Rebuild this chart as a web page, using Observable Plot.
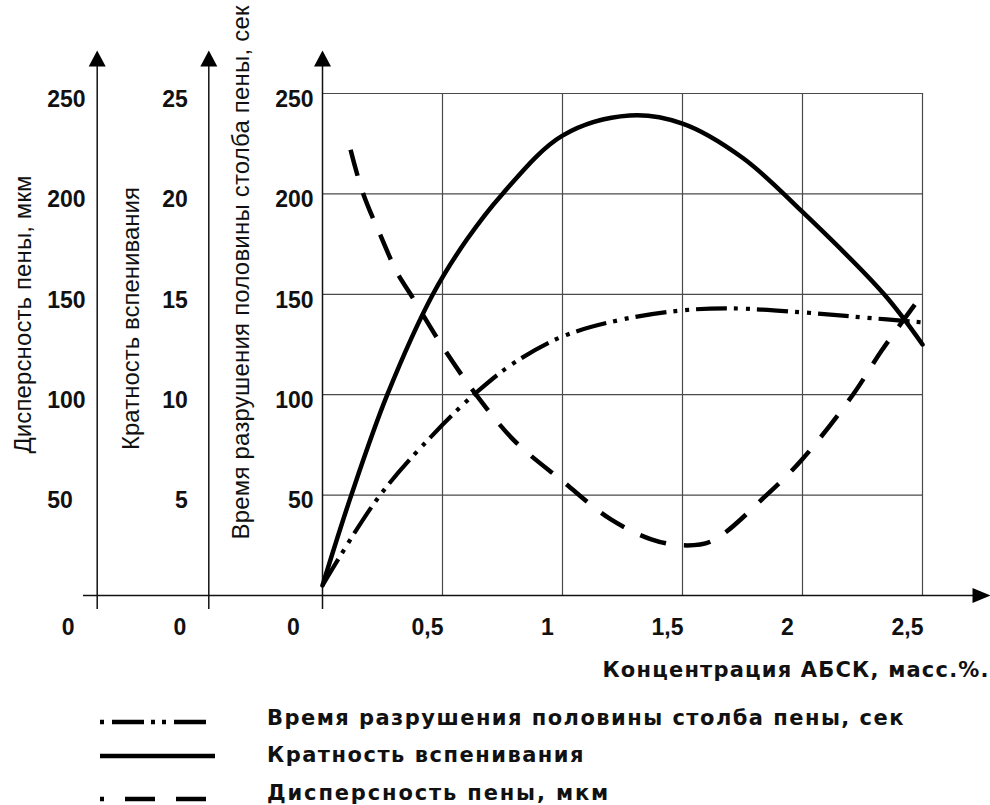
<!DOCTYPE html>
<html>
<head>
<meta charset="utf-8">
<script src="https://cdn.jsdelivr.net/npm/d3@7"></script>
<script src="https://cdn.jsdelivr.net/npm/@observablehq/plot@0.6"></script>
<style>
  body { margin: 0; background: #fff; font-family: "Liberation Sans", Arial, sans-serif; }
  #wrap { position: relative; width: 990px; height: 805px; overflow: hidden; }
  #wrap > svg { position: absolute; left: 0; top: 0; }
  .lgtext { position: absolute; left: 267px; font-family: "DejaVu Sans", sans-serif; font-weight: bold;
            font-size: 21px; color: #111; white-space: nowrap; line-height: 20px; }
</style>
</head>
<body>
<div id="wrap"></div>
<script>
// ---------------- DATA ----------------
// Кратность вспенивания (0..25 scale)
const kratConc  = [0, 0.12, 0.27, 0.46, 0.6, 0.75, 1.0, 1.28, 1.5, 1.75, 2.0, 2.34, 2.5];
const kratValue = [0.5, 5.0, 10.0, 15.0, 17.7, 20.0, 22.9, 23.9, 23.5, 21.8, 19.1, 15.0, 12.5];

// Время разрушения половины столба пены, сек (0..250)
const timeConc  = [0, 0.24, 0.5, 0.65, 0.8, 1.0, 1.25, 1.5, 1.7, 2.0, 2.25, 2.5];
const timeValue = [5, 50, 85, 102, 116, 129, 137.5, 142, 143, 141, 138.5, 136];

// Дисперсность пены, мкм (0..250)
const dispConc  = [0.117, 0.167, 0.25, 0.31, 0.367, 0.5, 0.64, 0.8, 1.0, 1.2, 1.37, 1.5, 1.62, 1.85, 2.0, 2.21, 2.33, 2.5];
const dispValue = [222, 201, 177, 161, 150, 124, 100, 77, 57, 38, 28, 25, 27, 50, 68, 100, 122, 150];

// Tick values / labels
const xTicks      = [0.5, 1, 1.5, 2, 2.5];
const xTickLabels = ["0,5", "1", "1,5", "2", "2,5"];
const timeTicks   = [50, 100, 150, 200, 250];
const kratTicks   = [5, 10, 15, 20, 25];
const dispTicks   = [50, 100, 150, 200, 250];
const yGrid       = [50, 100, 150, 200, 250];

const titleDisp = "Дисперсность пены, мкм";
const titleKrat = "Кратность вспенивания";
const titleTime = "Время разрушения половины столба пены, сек";
const titleX    = "Концентрация АБСК, масс.%.";

// ---------------- LAYOUT ----------------
const W = 990, H = 700;
const xRange = [322, 922], yRange = [595, 93];
const pxToX = px => (px - xRange[0]) / (xRange[1] - xRange[0]) * 2.5;
const pyToY = py => (yRange[0] - py) / (yRange[0] - yRange[1]) * 250;
const axisX = [pxToX(96.7), pxToX(208.3), 0];   // three vertical axes
const font = "Liberation Sans, Arial, sans-serif";

const krat = kratConc.map((c, i) => ({c, v: kratValue[i] * 10}));
const time = timeConc.map((c, i) => ({c, v: timeValue[i]}));
const disp = dispConc.map((c, i) => ({c, v: dispValue[i]}));

const upArrow = { draw(ctx) { ctx.moveTo(0, 0); ctx.lineTo(-8.5, 16); ctx.lineTo(8.5, 16); ctx.closePath(); } };
const rightArrow = { draw(ctx) { ctx.moveTo(0, 0); ctx.lineTo(-18, -7.5); ctx.lineTo(-18, 7.5); ctx.closePath(); } };

const tickFont = {fontSize: 23, fontWeight: "bold", fill: "#111", lineAnchor: "middle"};
const titleFont = {fontSize: 24, fill: "#111", rotate: -90, frameAnchor: "top-left",
                   textAnchor: "middle", lineAnchor: "middle"};

const chart = Plot.plot({
  width: W, height: H,
  marginLeft: 0, marginRight: 0, marginTop: 0, marginBottom: 0,
  style: {fontFamily: font, background: "white", overflow: "visible"},
  x: {domain: [0, 2.5], range: xRange, axis: null},
  y: {domain: [0, 250], range: yRange, axis: null},
  marks: [
    // grid
    Plot.ruleX(xTicks, {y1: 0, y2: 250, stroke: "#4a4a4a", strokeWidth: 1.2}),
    Plot.ruleY(yGrid, {x1: 0, x2: 2.5, stroke: "#4a4a4a", strokeWidth: 1.2}),
    // axis lines
    Plot.ruleY([0], {x1: pxToX(83), x2: pxToX(975), stroke: "#111", strokeWidth: 1.6}),
    Plot.ruleX(axisX, {y1: pyToY(609), y2: pyToY(60), stroke: "#111", strokeWidth: 1.5}),
    Plot.dot(axisX, {x: d => d, y: pyToY(50), symbol: upArrow, fill: "#000", stroke: null}),
    Plot.dot([0], {x: pxToX(990), y: 0, symbol: rightArrow, fill: "#000", stroke: null}),
    // tick labels
    Plot.text(timeTicks, {x: 0, y: d => d, text: d => String(d), textAnchor: "end", dx: -9, dy: 6, ...tickFont}),
    Plot.text(kratTicks, {x: axisX[1], y: d => d * 10, text: d => String(d), textAnchor: "end", dx: -21, dy: 6, ...tickFont}),
    Plot.text(dispTicks, {x: axisX[0], y: d => d, text: d => String(d), textAnchor: "start", dx: -50, dy: 6, ...tickFont}),
    Plot.text(axisX, {x: d => d, y: 0, text: () => "0", dx: -29, dy: 32, ...tickFont}),
    Plot.text(xTicks, {x: d => d, y: 0, text: (d, i) => xTickLabels[i], dx: -15, dy: 32, ...tickFont}),
    // axis titles
    Plot.text([titleDisp], {...titleFont, dx: 23, dy: 314}),
    Plot.text([titleKrat], {...titleFont, dx: 131, dy: 318}),
    Plot.text([titleTime], {...titleFont, dx: 241, dy: 272}),
    Plot.text([titleX], {frameAnchor: "top-left", dx: 988, dy: 670, textAnchor: "end", lineAnchor: "middle",
                         fontSize: 21, fontWeight: "bold", fill: "#111", fontFamily: "DejaVu Sans"}),
    // curves
    Plot.line(time, {x: "c", y: "v", curve: "catmull-rom", stroke: "#000", strokeWidth: 4.2,
                     strokeLinecap: "butt", strokeDasharray: "31,7,4,8,4,7"}),
    Plot.line(krat, {x: "c", y: "v", curve: "catmull-rom", stroke: "#000", strokeWidth: 4.5}),
    Plot.line(disp, {x: "c", y: "v", curve: "catmull-rom", stroke: "#000", strokeWidth: 4.5,
                     strokeLinecap: "butt", strokeDasharray: "27,18"})
  ]
});

const wrap = document.getElementById("wrap");
wrap.appendChild(chart);

// stretch SVG texts to the lengths seen in the reference
function fitSvgText(str, target) {
  d3.select(chart).selectAll("text").filter(function() { return this.textContent === str; })
    .attr("textLength", target).attr("lengthAdjust", "spacing");
}
fitSvgText(titleX, 386);
fitSvgText(titleDisp, 278);
fitSvgText(titleKrat, 263);
fitSvgText(titleTime, 534);

// ---------------- LEGEND (below the plot) ----------------
const legendItems = [
  {label: titleTime, dash: "32,7,4,7,4,8", offset: 50, y: 722, ty: 718, x2: 208, w: 638},
  {label: titleKrat, dash: null, offset: 0, y: 756, ty: 755, x2: 215, w: 318},
  {label: titleDisp, dash: "30,21", offset: 26, y: 799, ty: 793, x2: 215, w: 343}
];
const lsvg = d3.select(wrap).append("svg")
  .attr("width", W).attr("height", 805 - H)
  .style("position", "absolute").style("left", "0px").style("top", H + "px");
legendItems.forEach(it => {
  lsvg.append("line")
    .attr("x1", 100).attr("x2", it.x2).attr("y1", it.y - H).attr("y2", it.y - H)
    .attr("stroke", "#000").attr("stroke-width", 4.5)
    .attr("stroke-dasharray", it.dash).attr("stroke-dashoffset", it.offset);
  const div = d3.select(wrap).append("div").attr("class", "lgtext")
    .style("top", (it.ty - 10) + "px").text(it.label);
  const w = div.node().getBoundingClientRect().width;
  div.style("letter-spacing", ((it.w - w) / it.label.length).toFixed(2) + "px");
});
</script>
</body>
</html>
